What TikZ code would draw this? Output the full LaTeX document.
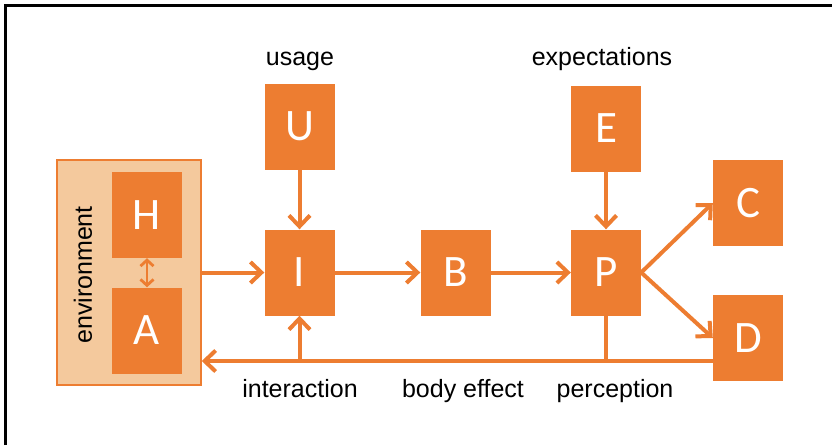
\documentclass[tikz,border=0pt]{standalone}
\usepackage{fontspec}
\setmainfont{Liberation Sans}
\newfontfamily\boxfont{Carlito}
\usetikzlibrary{arrows.meta}
\definecolor{cLaranja}{HTML}{ED7D31}
\definecolor{cFundoAmb}{HTML}{F4C99D}

\begin{document}
\begin{tikzpicture}[
  x=1pt,y=1pt,font=\fontsize{25}{28}\selectfont,
  blk/.style={fill=cLaranja,minimum width=70pt,minimum height=86pt,inner sep=0pt,
              text=white,font=\boxfont\fontsize{45}{48}\selectfont},
  amb/.style={draw=cLaranja,fill=cFundoAmb,line width=1.5pt,inner sep=0pt,
              minimum width=144pt,minimum height=225pt},
  ar/.style={-{Straight Barb[length=11pt,width=21pt]},draw=cLaranja,line width=4pt},
  dup/.style={{Straight Barb[length=6pt,width=13pt]}-{Straight Barb[length=6pt,width=13pt]},
              draw=cLaranja,line width=2.8pt},
  lin/.style={draw=cLaranja,line width=4pt},
  lbl/.style={anchor=base,inner sep=0pt}
]
\useasboundingbox (0,0) rectangle (832,-445);
% ---- moldura
\draw[line width=3pt] (5.5,-445) -- (5.5,-5.5) -- (832,-5.5);

% ---- ambiente
\node[amb] (env) at (129,-272.5) {};
\node[rotate=90] (envl) at (83,-275) {environment};
\node[blk] (H) at (147,-215) {H};
\node[blk] (A) at (147,-330.5) {A};

% ---- blocos
\node[blk] (U) at (299.5,-126.5) {U};
\node[blk] (I) at (299.5,-272.5) {I};
\node[blk] (B) at (455.5,-272.5) {B};
\node[blk] (E) at (606,-128.5) {E};
\node[blk] (P) at (606,-272.5) {P};
\node[blk] (C) at (748,-203) {C};
\node[blk] (D) at (748,-338) {D};

% ---- rotulos
\node[lbl] (lu) at (300,-65) {usage};
\node[lbl] (le) at (602,-65) {expectations};
\node[lbl] (li) at (300,-397) {interaction};
\node[lbl] (lb) at (463,-397) {body effect};
\node[lbl] (lp) at (615,-397) {perception};

% ---- setas
\draw[dup] (H.south) -- (A.north);
\draw[ar] (env.east) -- (I.west);
\draw[ar] (U) -- (I);
\draw[ar] (I) -- (B);
\draw[ar] (B) -- (P);
\draw[ar] (E) -- (P);
\draw[ar] (P.east) -- (C.west);
\draw[ar] (P.east) -- (D.west);

% ---- retorno
\path (D.west) ++(0,-23) coordinate (fb);
\draw[ar] (fb) -- (fb -| env.east);
\draw[ar] (fb -| I.south) -- (I.south);
\draw[lin] (P.south) -- (P.south |- fb);
\end{tikzpicture}
\end{document}
